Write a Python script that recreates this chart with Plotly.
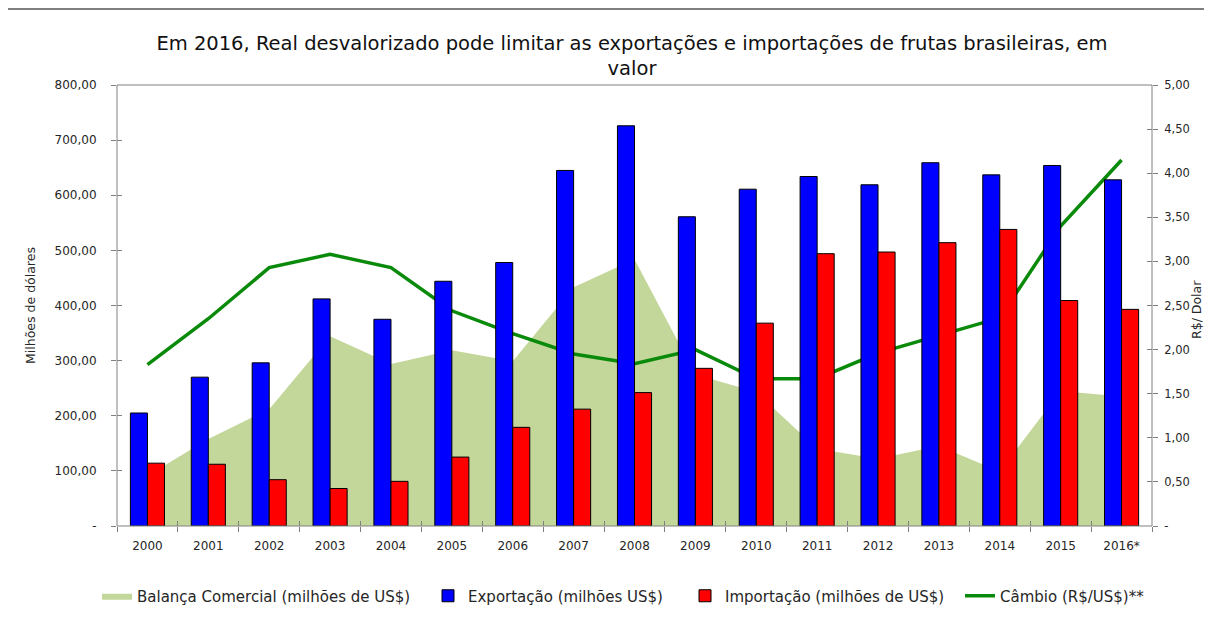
import plotly.graph_objects as go

years = ["2000", "2001", "2002", "2003", "2004", "2005", "2006", "2007", "2008",
         "2009", "2010", "2011", "2012", "2013", "2014", "2015", "2016*"]
exportacao = [205, 270, 296, 412, 375, 444, 478, 645, 726, 561, 611, 634, 619, 659, 637, 654, 628]
importacao = [114, 112, 84, 68, 81, 125, 179, 212, 242, 286, 368, 494, 497, 514, 538, 409, 393]
balanca = [91, 158, 212, 344, 294, 319, 299, 433, 484, 275, 243, 140, 122, 145, 99, 245, 235]
cambio = [1.83, 2.35, 2.93, 3.08, 2.93, 2.44, 2.18, 1.95, 1.84, 2.00, 1.67, 1.67, 1.96, 2.16, 2.36, 3.40, 4.15]

left_vals = [0, 100, 200, 300, 400, 500, 600, 700, 800]
left_text = ["-", "100,00", "200,00", "300,00", "400,00", "500,00", "600,00", "700,00", "800,00"]
right_vals = [0, 0.5, 1, 1.5, 2, 2.5, 3, 3.5, 4, 4.5, 5]
right_text = ["-", "0,50", "1,00", "1,50", "2,00", "2,50", "3,00", "3,50", "4,00", "4,50", "5,00"]
boundaries = [i + 0.5 for i in range(-1, 17)]

FONT = "DejaVu Sans, Verdana, sans-serif"
TXT = "#262626"
AX = "#808080"
XR = [-0.5, len(years) - 0.5]

fig = go.Figure()
fig.add_trace(go.Scatter(x=years, y=balanca, name="Balança Comercial (milhões de US$)",
                         mode="lines", line=dict(width=0, color="#c4d79b"),
                         fill="tozeroy", fillcolor="#c4d79b", zorder=0, legend="legend"))
fig.add_trace(go.Bar(x=years, y=exportacao, name="Exportação (milhões US$)",
                     marker=dict(color="#0000ff", line=dict(color="#000000", width=1)),
                     zorder=1, legend="legend2"))
fig.add_trace(go.Bar(x=years, y=importacao, name="Importação (milhões de US$)",
                     marker=dict(color="#ff0000", line=dict(color="#000000", width=1)),
                     zorder=1, legend="legend3"))
fig.add_trace(go.Scatter(x=years, y=cambio, name="Câmbio (R$/US$)**", yaxis="y2",
                         mode="lines", line=dict(color="#0a8a0a", width=3.5), legend="legend4"))
# invisible helpers so the inner halves of the crossing tick marks are drawn
fig.add_trace(go.Scatter(x=[0], y=[0], xaxis="x2", yaxis="y3", mode="markers",
                         marker=dict(opacity=0, size=1), showlegend=False, hoverinfo="skip"))
fig.add_trace(go.Scatter(x=[0], y=[0], xaxis="x2", yaxis="y4", mode="markers",
                         marker=dict(opacity=0, size=1), showlegend=False, hoverinfo="skip"))

# page offset of the figure (body margin)
OFF = 8
W, H = 1196, 612
L, R, T, B = 117 - OFF, W - (1152 - OFF), 85 - OFF, H - (526 - OFF)
pw, ph = W - L - R, H - T - B


def px(xpage):
    return (xpage - OFF - L) / pw


def py(ypage):
    return (H - B - (ypage - OFF)) / ph


def leg(xpage):
    return dict(orientation="h", x=px(xpage), xanchor="left", y=py(596), yanchor="middle",
                font=dict(size=15, color=TXT), itemwidth=30, bgcolor="rgba(0,0,0,0)")


fig.update_layout(
    width=W, height=H,
    margin=dict(l=L, r=R, t=T, b=B, pad=0, autoexpand=False),
    paper_bgcolor="white", plot_bgcolor="white",
    font=dict(family=FONT, color=TXT, size=12),
    barmode="group", bargap=0.44, bargroupgap=0,
    title=dict(text="Em 2016, Real desvalorizado pode limitar as exportações e importações de frutas brasileiras, em<br>valor",
               x=(632 - OFF) / W, xanchor="center", y=1 - 42 / H, yanchor="top",
               font=dict(family=FONT, size=19.5, color="#111111")),
    xaxis=dict(type="category", range=XR, tickson="boundaries", ticks="outside", ticklen=5,
               tickcolor=AX, showline=True, linecolor=AX, linewidth=1, mirror=True,
               showgrid=False, tickfont=dict(size=12, color=TXT), ticklabelstandoff=9,
               automargin=False),
    xaxis2=dict(type="linear", overlaying="x", range=XR, tickvals=boundaries, ticks="inside",
                ticklen=5, tickcolor=AX, showticklabels=False, showline=False,
                showgrid=False, zeroline=False, side="bottom", anchor="y3", automargin=False),
    yaxis=dict(range=[0, 800], tickvals=left_vals, ticktext=left_text,
               ticks="outside", ticklen=5, tickcolor=AX, showline=True, linecolor=AX,
               linewidth=1, mirror=True, showgrid=False, zeroline=False,
               ticklabelstandoff=12, tickfont=dict(size=12, color=TXT), automargin=False,
               title=dict(text="Milhões de dólares", font=dict(size=12.5, color=TXT), standoff=16)),
    yaxis2=dict(range=[0, 5], tickvals=right_vals, ticktext=right_text, overlaying="y",
                side="right", ticks="outside", ticklen=5, tickcolor=AX, showline=True,
                linecolor=AX, linewidth=1, showgrid=False, zeroline=False,
                ticklabelstandoff=4, tickfont=dict(size=11.5, color=TXT), automargin=False),
    yaxis3=dict(range=[0, 800], tickvals=left_vals, overlaying="y", side="left", anchor="x2",
                ticks="inside", ticklen=5, tickcolor=AX, showticklabels=False,
                showline=False, showgrid=False, zeroline=False, automargin=False),
    yaxis4=dict(range=[0, 5], tickvals=right_vals, overlaying="y", side="right", anchor="x2",
                ticks="inside", ticklen=5, tickcolor=AX, showticklabels=False,
                showline=False, showgrid=False, zeroline=False, automargin=False),
    legend=leg(97),
    legend2=leg(428),
    legend3=leg(685),
    legend4=leg(960),
    showlegend=True,
)

fig.add_annotation(text="R$/ Dolar", textangle=-90, xref="paper", yref="paper",
                   x=px(1196), y=py(310), xanchor="center", yanchor="middle",
                   showarrow=False, font=dict(size=12.5, color=TXT))

# plot-area frame
fig.add_shape(type="rect", xref="paper", yref="paper", x0=0, x1=1, y0=0, y1=1,
              line=dict(color=AX, width=1), layer="above")
# outer chart frame (top and left edges)
fig.add_shape(type="line", xref="paper", yref="paper", x0=px(7), x1=px(OFF + W),
              y0=py(9), y1=py(9), line=dict(color="#7f7f7f", width=2))
fig.add_shape(type="line", xref="paper", yref="paper", x0=px(7), x1=px(7),
              y0=py(9), y1=py(660), line=dict(color="#7f7f7f", width=2))

fig.write_html("out.html")
